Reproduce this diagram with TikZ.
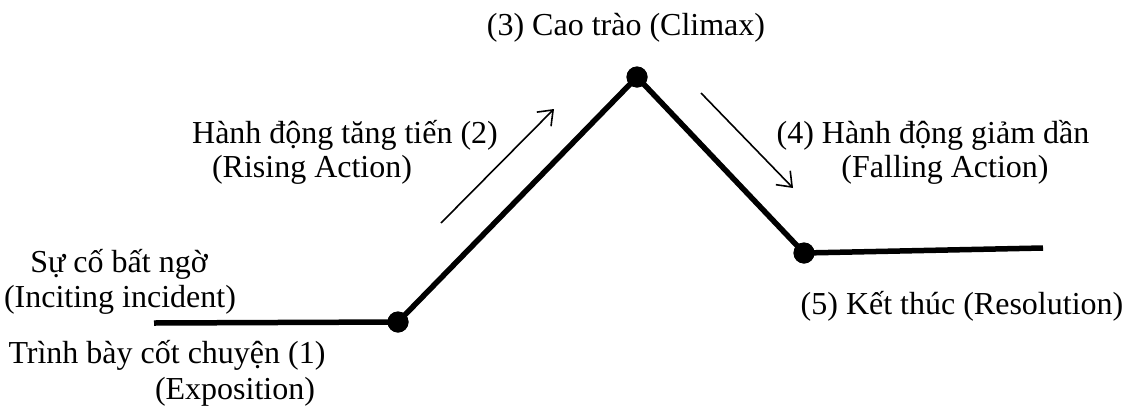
\documentclass[tikz,border=0pt]{standalone}
\usepackage{fontspec}
\setmainfont{Liberation Serif}
\usetikzlibrary{arrows.meta}
\begin{document}
\begin{tikzpicture}[x=1pt,y=-1pt,
  plot/.style={line width=5.5pt, line cap=butt, line join=miter},
  dotnode/.style={circle, fill=black, inner sep=0pt, minimum size=21pt},
  hint/.style={line width=1.6pt, -{Straight Barb[length=13pt,width=20pt,line width=1.6pt]}},
  lbl/.style={inner sep=0pt, anchor=base, font=\fontsize{32}{35}\selectfont}]
\useasboundingbox (0,0) rectangle (1132,405);
% plot points
\coordinate (start) at (154,323);
\node[dotnode] (inc) at (398,322) {};
\node[dotnode] (peak) at (637,77) {};
\node[dotnode] (res) at (804,253) {};
\coordinate (end) at (1043,248);
\draw[plot] (start) -- (inc.center) -- (peak.center) -- (res.center) -- (end);
\node[dotnode] at (inc) {};
\node[dotnode] at (peak) {};
\node[dotnode] at (res) {};
% direction arrows
\coordinate (ra1) at (441,223);
\coordinate (ra2) at (554,109);
\coordinate (fa1) at (701,93);
\coordinate (fa2) at (793,188);
\draw[hint] (ra1) -- (ra2);
\draw[hint] (fa1) -- (fa2);
% labels
\node[lbl] (climax) at (626,35) {(3) Cao trào (Climax)};
\node[lbl] (rise1) at (345,143) {Hành động tăng tiến (2)};
\node[lbl] (rise2) at (312,177) {(Rising Action)};
\node[lbl] (fall1) at (933,143) {(4) Hành động giảm dần};
\node[lbl] (fall2) at (945,177) {(Falling Action)};
\node[lbl] (resol) at (962,314) {(5) Kết thúc (Resolution)};
\node[lbl] (inc1) at (119,272) {Sự cố bất ngờ};
\node[lbl] (inc2) at (120,307) {(Inciting incident)};
\node[lbl] (exp1) at (167,363) {Trình bày cốt chuyện (1)};
\node[lbl] (exp2) at (235,399) {(Exposition)};
\end{tikzpicture}
\end{document}
